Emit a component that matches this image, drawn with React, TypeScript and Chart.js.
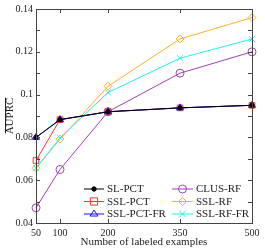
import React, { useEffect, useRef } from "react";
import { Chart, registerables } from "chart.js";

Chart.register(...registerables);

const xValues = [50, 100, 200, 350, 500];
const xTickLabels = [50, 100, 200, 350, 500];
const seriesNames = ["SL-PCT", "SSL-PCT", "SSL-PCT-FR", "CLUS-RF", "SSL-RF", "SSL-RF-FR"];
const slPct = [0.080, 0.0883, 0.092, 0.0938, 0.095];
const sslPct = [0.0692, 0.0883, 0.092, 0.0938, 0.095];
const sslPctFr = [0.080, 0.0883, 0.092, 0.0938, 0.095];
const clusRf = [0.0471, 0.065, 0.092, 0.110, 0.120];
const sslRf = [0.0656, 0.0792, 0.1039, 0.126, 0.136];
const sslRfFr = [0.0656, 0.0798, 0.101, 0.117, 0.126];

const FONT = "'Liberation Serif', 'DejaVu Serif', serif";
const TEXT = "#222";

const styles = [
  { color: "#000000", point: "circle", radius: 2.2, fill: "#000000", order: 1 },
  { color: "#ff3030", point: "rect", radius: 4, fill: "rgba(0,0,0,0)", order: 3 },
  { color: "#1010ff", point: "triangle", radius: 4, fill: "rgba(0,0,0,0)", order: 2 },
  { color: "#a040b0", point: "circle", radius: 4, fill: "rgba(0,0,0,0)", order: 6 },
  { color: "#ffb020", point: "rectRot", radius: 4, fill: "rgba(0,0,0,0)", order: 5 },
  { color: "#20f0f0", point: "crossRot", radius: 4, fill: "rgba(0,0,0,0)", order: 4 },
];

function drawPointShim(ctx: CanvasRenderingContext2D, style: string, r: number, x: number, y: number) {
  ctx.beginPath();
  switch (style) {
    case "circle":
      ctx.arc(x, y, r, 0, Math.PI * 2);
      ctx.fill();
      ctx.stroke();
      break;
    case "rect":
      ctx.rect(x - r * 0.9, y - r * 0.9, r * 1.8, r * 1.8);
      ctx.stroke();
      break;
    case "triangle": {
      const h = r * 1.5;
      ctx.moveTo(x, y - h * 0.66);
      ctx.lineTo(x + r, y + h * 0.34);
      ctx.lineTo(x - r, y + h * 0.34);
      ctx.closePath();
      ctx.stroke();
      break;
    }
    case "rectRot":
      ctx.moveTo(x, y - r);
      ctx.lineTo(x + r, y);
      ctx.lineTo(x, y + r);
      ctx.lineTo(x - r, y);
      ctx.closePath();
      ctx.stroke();
      break;
    case "crossRot": {
      const d = r * 0.8;
      ctx.moveTo(x - d, y - d);
      ctx.lineTo(x + d, y + d);
      ctx.moveTo(x + d, y - d);
      ctx.lineTo(x - d, y + d);
      ctx.stroke();
      break;
    }
  }
}

const framePlugin = {
  id: "frame",
  afterDraw(chart: any) {
    const { ctx, chartArea: a, scales } = chart;
    const xs = scales.x;
    const ys = scales.y;
    ctx.save();
    ctx.strokeStyle = "#444";
    ctx.lineWidth = 1;
    ctx.strokeRect(Math.round(a.left) + 0.5, Math.round(a.top) + 0.5, Math.round(a.right - a.left), Math.round(a.bottom - a.top));
    const tl = 4;
    ctx.beginPath();
    for (const v of xTickLabels) {
      const px = Math.round(xs.getPixelForValue(v)) + 0.5;
      ctx.moveTo(px, a.bottom);
      ctx.lineTo(px, a.bottom - tl);
      ctx.moveTo(px, a.top);
      ctx.lineTo(px, a.top + tl);
    }
    for (let i = 4; i <= 14; i++) {
      const py = Math.round(ys.getPixelForValue(i / 100)) + 0.5;
      ctx.moveTo(a.left, py);
      ctx.lineTo(a.left + tl, py);
      ctx.moveTo(a.right, py);
      ctx.lineTo(a.right - tl, py);
    }
    ctx.stroke();

    // axis titles
    ctx.fillStyle = TEXT;
    ctx.font = `11px ${FONT}`;
    ctx.textAlign = "center";
    ctx.textBaseline = "middle";
    ctx.fillText("Number of labeled examples", (a.left + a.right) / 2, 242);
    ctx.save();
    ctx.translate(10, (a.top + a.bottom) / 2);
    ctx.rotate(-Math.PI / 2);
    ctx.fillText("AUPRC", 0, 0);
    const w = ctx.measureText("AUPRC").width;
    ctx.beginPath();
    ctx.strokeStyle = TEXT;
    ctx.moveTo(-w / 2 + 1, -4.5);
    ctx.lineTo(w / 2, -4.5);
    ctx.stroke();
    ctx.restore();

    // legend
    const rows = [189, 201.5, 214];
    const cols = [
      { x0: 84, x1: 104, tx: 107 },
      { x0: 172, x1: 193, tx: 196 },
    ];
    ctx.font = `11px ${FONT}`;
    ctx.textAlign = "left";
    ctx.textBaseline = "middle";
    chart.data.datasets.forEach((ds: any, i: number) => {
      const c = cols[Math.floor(i / 3)];
      const y = rows[i % 3];
      ctx.beginPath();
      ctx.strokeStyle = ds.borderColor;
      ctx.lineWidth = 1;
      ctx.moveTo(c.x0, y);
      ctx.lineTo(c.x1, y);
      ctx.stroke();
      const st = styles[i];
      ctx.fillStyle = st.fill;
      ctx.strokeStyle = ds.borderColor;
      drawPointShim(ctx, st.point, st.radius, (c.x0 + c.x1) / 2, y);
      ctx.fillStyle = TEXT;
      ctx.fillText(ds.label, c.tx, y + 0.5);
    });
    ctx.restore();
  },
};

export default function App() {
  const ref = useRef<HTMLCanvasElement>(null);
  useEffect(() => {
    if (!ref.current) return;
    const all = [slPct, sslPct, sslPctFr, clusRf, sslRf, sslRfFr];
    const chart = new Chart(ref.current, {
      type: "line",
      data: {
        datasets: all.map((vals, i) => ({
          label: seriesNames[i],
          data: xValues.map((x, j) => ({ x, y: vals[j] })),
          borderColor: styles[i].color,
          backgroundColor: styles[i].fill,
          pointBackgroundColor: styles[i].fill,
          pointBorderColor: styles[i].color,
          pointStyle: styles[i].point as any,
          pointRadius: styles[i].radius,
          pointBorderWidth: 1,
          borderWidth: 1,
          tension: 0,
          fill: false,
          order: styles[i].order,
          clip: false as any,
        })),
      },
      options: {
        animation: false,
        responsive: false,
        maintainAspectRatio: false,
        events: [],
        layout: { padding: { top: 7, right: 13, left: 0, bottom: 0 } },
        plugins: { legend: { display: false }, tooltip: { enabled: false } },
        scales: {
          x: {
            type: "linear",
            min: 50,
            max: 500,
            grid: { display: false, drawTicks: false, tickLength: 0 },
            border: { display: false },
            afterBuildTicks: (s: any) => {
              s.ticks = xTickLabels.map((v) => ({ value: v }));
            },
            afterFit: (s: any) => {
              s.height = 26;
            },
            ticks: {
              padding: 4,
              maxRotation: 0,
              autoSkip: false,
              color: TEXT,
              font: { family: FONT, size: 10 },
              callback: (v: any) => String(v),
            },
          },
          y: {
            min: 0.04,
            max: 0.14,
            grid: { display: false, drawTicks: false, tickLength: 0 },
            border: { display: false },
            afterBuildTicks: (s: any) => {
              const t = [];
              for (let i = 4; i <= 14; i += 2) t.push({ value: i / 100 });
              s.ticks = t;
            },
            afterFit: (s: any) => {
              s.width = 36;
            },
            ticks: {
              padding: 3,
              color: TEXT,
              font: { family: FONT, size: 10 },
              callback: (v: any) => String(Number(Number(v).toFixed(2))),
            },
          },
        },
      },
      plugins: [framePlugin],
    });
    return () => chart.destroy();
  }, []);
  return (
    <div style={{ position: "fixed", left: 0, top: 0, width: 265, height: 249, background: "#fff" }}>
      <canvas ref={ref} width={265} height={249} style={{ display: "block" }} />
    </div>
  );
}
